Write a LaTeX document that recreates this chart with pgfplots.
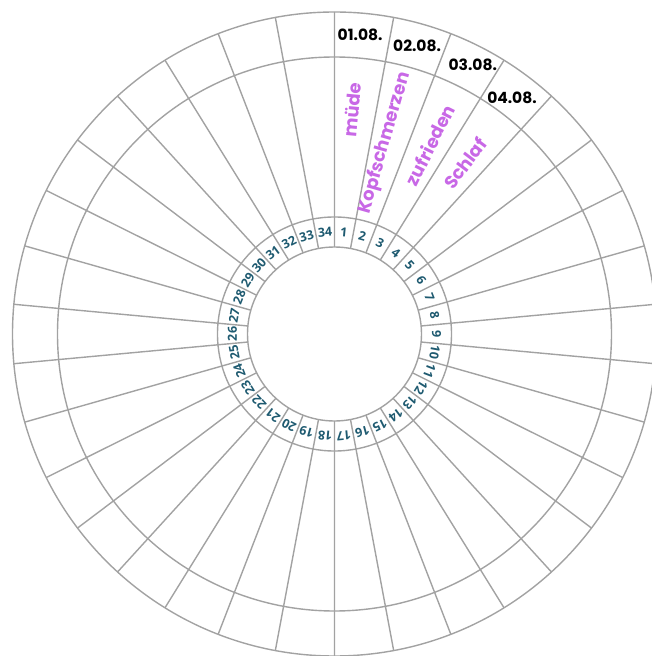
\documentclass[border=0pt]{standalone}
\usepackage{pgfplots}
\pgfplotsset{compat=1.18}
\usepgfplotslibrary{polar}
\usepackage{pgfplotstable}
\usepackage{fontspec}
\newfontfamily\datefont{Poppins}
\newfontfamily\numfont{Open Sans}
\definecolor{ringline}{RGB}{162,162,162}
\definecolor{numcol}{RGB}{30,90,112}
\definecolor{lilac}{RGB}{200,104,230}

% spokes: angle (deg) and radius, one spoke per pair of rows
\pgfplotstableread{
a r
90 87
90 322
nan nan
100.5882 87
100.5882 322
nan nan
111.1765 87
111.1765 322
nan nan
121.7647 87
121.7647 322
nan nan
132.3529 87
132.3529 322
nan nan
142.9412 87
142.9412 322
nan nan
153.5294 87
153.5294 322
nan nan
164.1176 87
164.1176 322
nan nan
174.7059 87
174.7059 322
nan nan
185.2941 87
185.2941 322
nan nan
195.8824 87
195.8824 322
nan nan
206.4706 87
206.4706 322
nan nan
217.0588 87
217.0588 322
nan nan
227.6471 87
227.6471 322
nan nan
238.2353 87
238.2353 322
nan nan
248.8235 87
248.8235 322
nan nan
259.4118 87
259.4118 322
nan nan
270 87
270 322
nan nan
280.5882 87
280.5882 322
nan nan
291.1765 87
291.1765 322
nan nan
301.7647 87
301.7647 322
nan nan
312.3529 87
312.3529 322
nan nan
322.9412 87
322.9412 322
nan nan
333.5294 87
333.5294 322
nan nan
344.1176 87
344.1176 322
nan nan
354.7059 87
354.7059 322
nan nan
5.2941 87
5.2941 322
nan nan
15.8824 87
15.8824 322
nan nan
26.4706 87
26.4706 322
nan nan
37.0588 87
37.0588 322
nan nan
47.6471 87
47.6471 322
nan nan
58.2353 87
58.2353 322
nan nan
68.8235 87
68.8235 322
nan nan
79.4118 87
79.4118 322
}\spokes

\begin{document}
\begin{tikzpicture}
\begin{polaraxis}[
  scale only axis, width=644pt, height=644pt,
  xmin=0, xmax=360, ymin=0, ymax=322,
  xtick=\empty, ytick={87,117,277,322}, yticklabels={},
  ymajorgrids, major grid style={ringline, line width=1.4pt},
  axis line style={draw=none}, major tick length=0pt,
  clip=false,
]
\addplot[ringline, line width=1.4pt, unbounded coords=jump] table[x=a, y=r] {\spokes};
\coordinate (C) at (axis cs:0,0);
\pgfplotsinvokeforeach{1,...,34}{
  \node[font=\numfont\bfseries\fontsize{12.5}{12.5}\selectfont, text=numcol, inner sep=0pt,
        rotate={-(#1-0.5)*360/34}] at (axis cs:{90-(#1-0.5)*360/34},102) {#1};
}
\begin{scope}[every node/.style={font=\datefont\bfseries\fontsize{15.5}{15.5}\selectfont, text=black, inner sep=0pt}]
\node at (axis cs:85.1,300) {01.08.};
\node at (axis cs:74.0,299.6) {02.08.};
\node at (axis cs:62.8,302.6) {03.08.};
\node at (axis cs:53.05,295.3) {04.08.};
\end{scope}
\begin{scope}[every node/.style={font=\datefont\bfseries\fontsize{18}{18}\selectfont, text=lilac, inner sep=0pt}]
\node[rotate=84.7] at (axis cs:85.5,224.7) {müde};
\node[rotate=74.1] at (axis cs:75.2,197.6) {Kopfschmerzen};
\node[rotate=63.5] at (axis cs:63.2,211.8) {zufrieden};
\node[rotate=52.9] at (axis cs:52.6,215) {Schlaf};
\end{scope}
\end{polaraxis}
\pgfresetboundingbox
\useasboundingbox ([shift={(-334.5pt,-322pt)}]C) rectangle ([shift={(316.5pt,334pt)}]C);
\end{tikzpicture}
\end{document}
